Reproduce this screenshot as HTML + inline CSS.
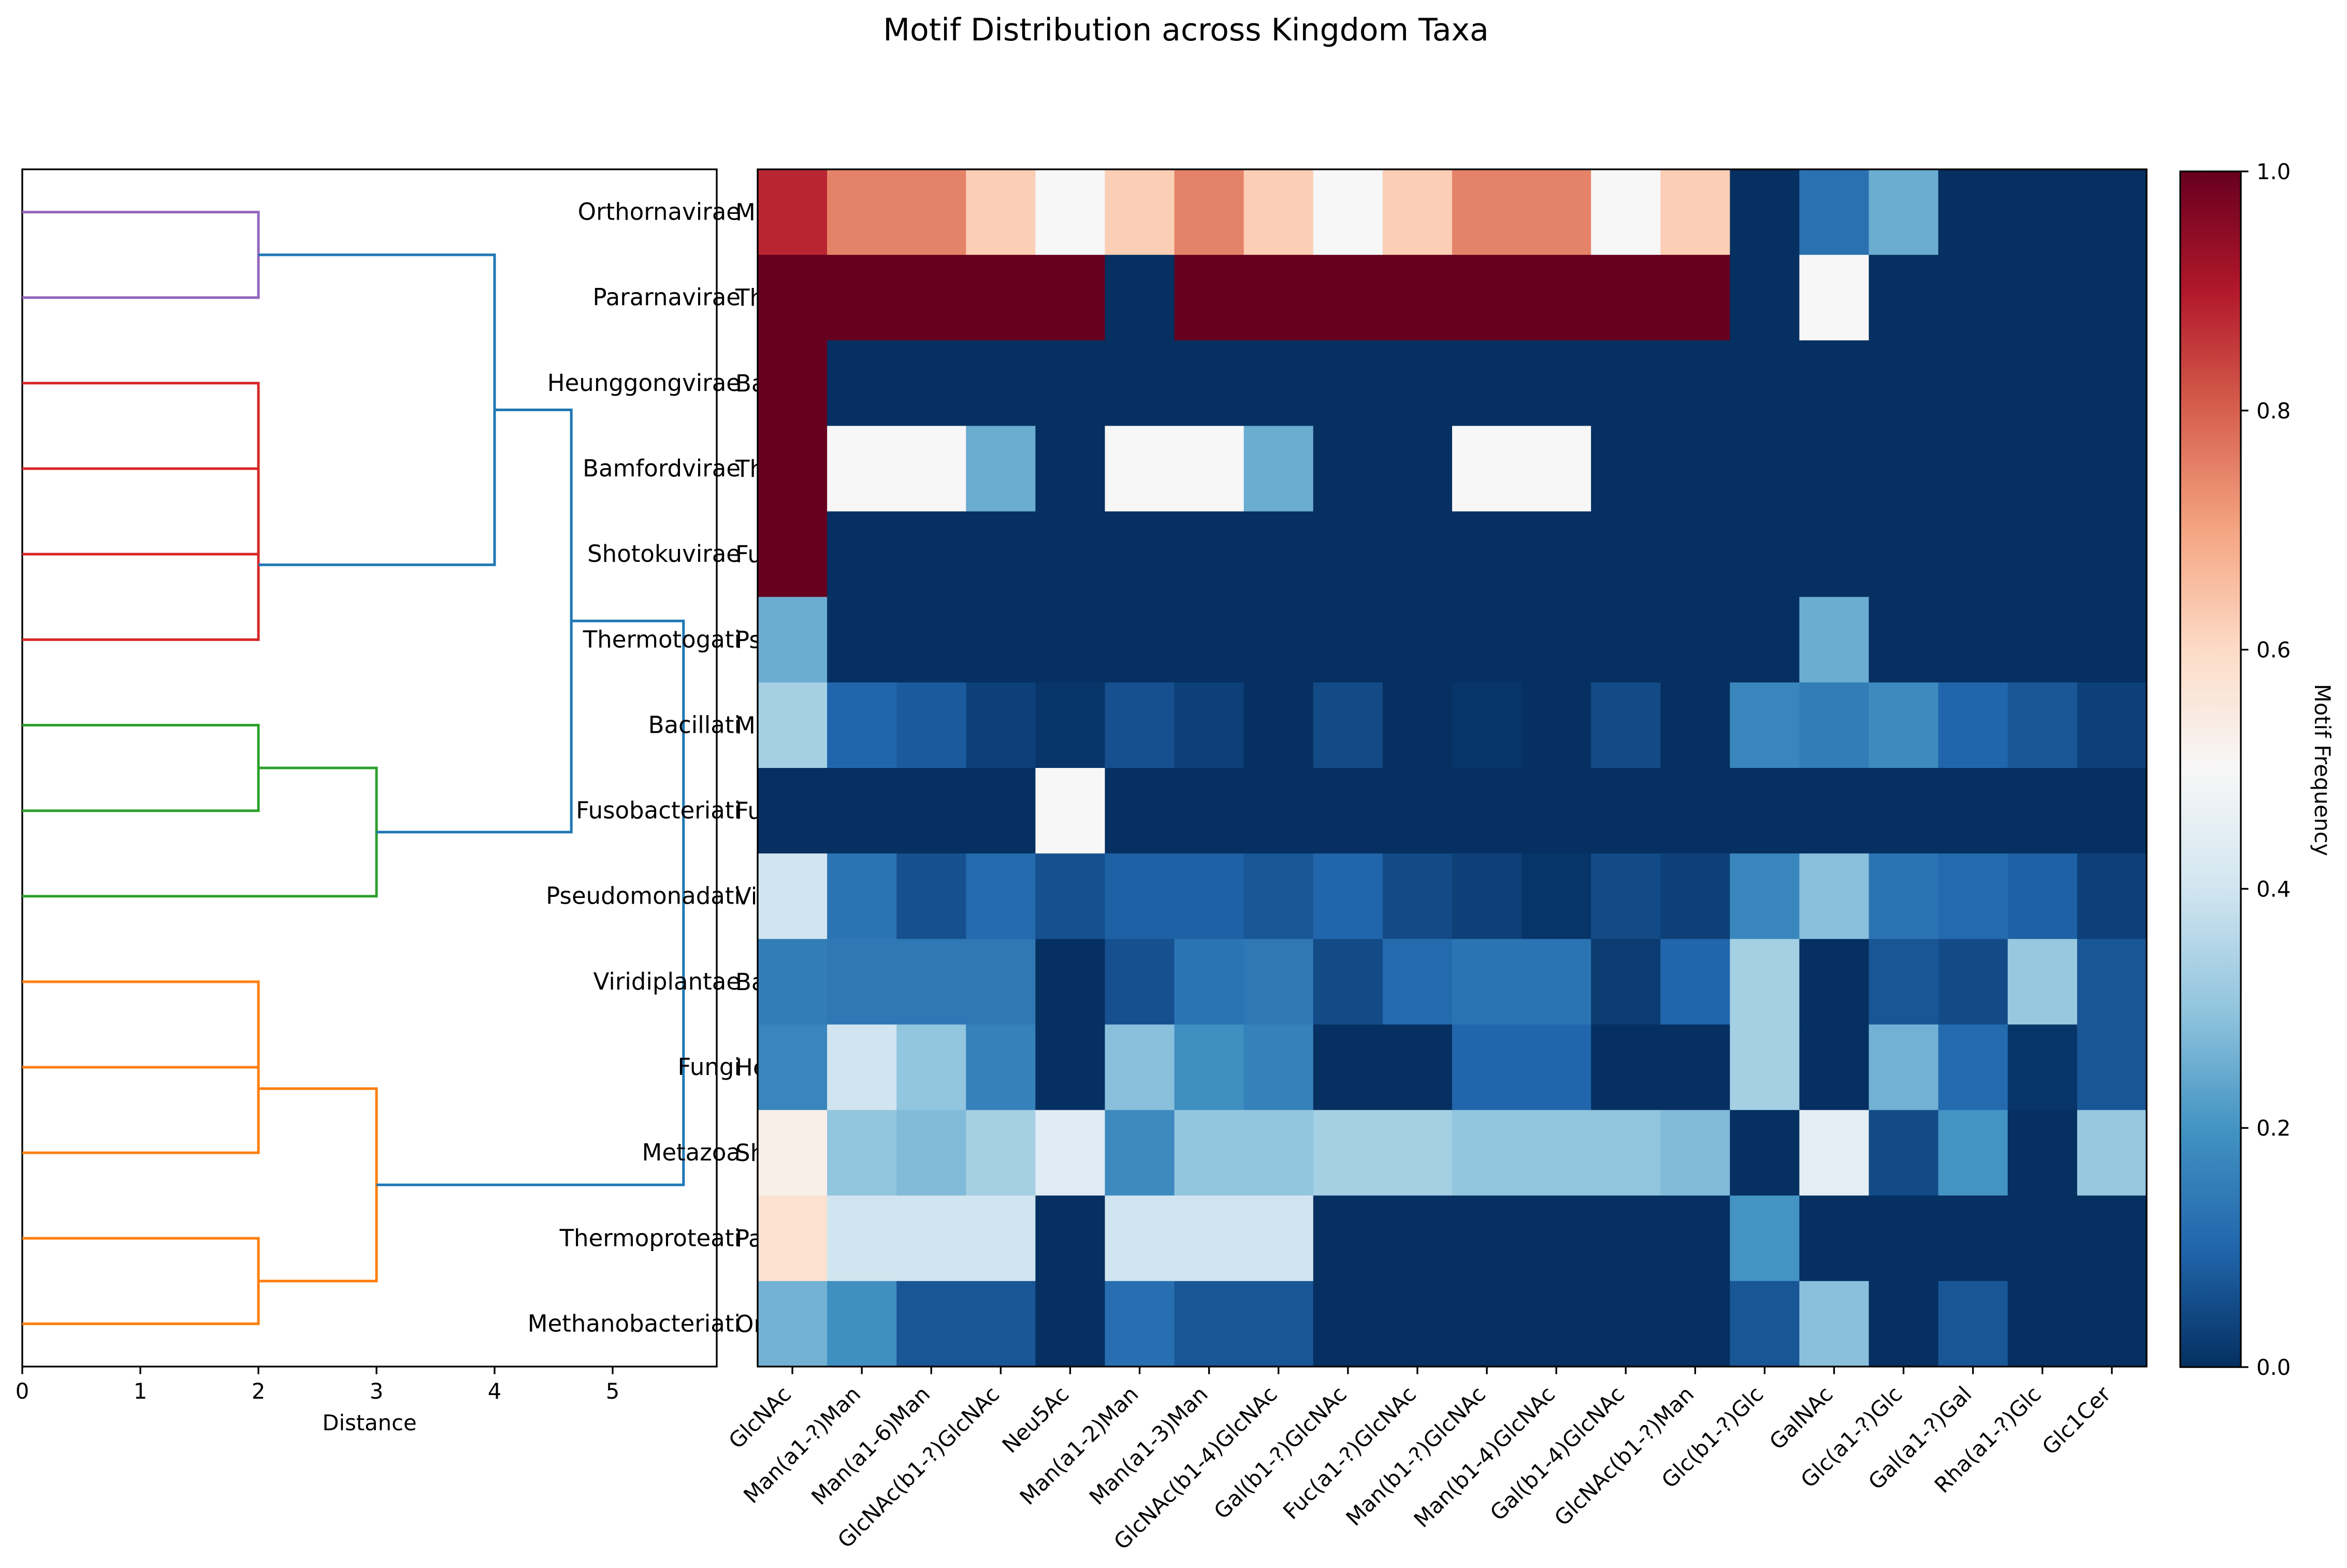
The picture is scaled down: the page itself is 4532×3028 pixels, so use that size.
<!DOCTYPE html>
<html><head><meta charset="utf-8"><style>
html,body{margin:0;padding:0;background:#fff}
svg{display:block;font-family:"DejaVu Sans","Liberation Sans",sans-serif}
</style></head><body>
<svg id="fig" width="4532" height="3028" viewBox="0 0 4532 3028" xmlns="http://www.w3.org/2000/svg">
<rect width="4532" height="3028" fill="#fff"/>
<text x="2290" y="78" font-size="60" text-anchor="middle">Motif Distribution across Kingdom Taxa</text>
<defs>
<linearGradient id="cbg" x1="0" y1="1" x2="0" y2="0">
<stop offset="0" stop-color="#053061"/><stop offset="0.1" stop-color="#2166ac"/><stop offset="0.2" stop-color="#4393c3"/><stop offset="0.3" stop-color="#92c5de"/><stop offset="0.4" stop-color="#d1e5f0"/><stop offset="0.5" stop-color="#f7f7f7"/><stop offset="0.6" stop-color="#fddbc7"/><stop offset="0.7" stop-color="#f4a582"/><stop offset="0.8" stop-color="#d6604d"/><stop offset="0.9" stop-color="#b2182b"/><stop offset="1" stop-color="#67001f"/>
</linearGradient>
</defs>
<g id="dendro"></g>
<g id="rowlabels"></g>
<g id="heat"></g>
<g id="xlabels"></g>
<g id="cbar"></g>
</svg>
<script>
const taxa = ["Orthornavirae","Pararnavirae","Heunggongvirae","Bamfordvirae","Shotokuvirae","Thermotogati","Bacillati","Fusobacteriati","Pseudomonadati","Viridiplantae","Fungi","Metazoa","Thermoproteati","Methanobacteriati"];
const taxa2 = ["Metazoa","Thermoproteati","Bacillati","Thermotogati","Fungi","Pseudomonadati","Methanobacteriati","Fusobacteriati","Viridiplantae","Bamfordvirae","Heunggongvirae","Shotokuvirae","Pararnavirae","Orthornavirae"];
const motifs = ["GlcNAc","Man(a1-?)Man","Man(a1-6)Man","GlcNAc(b1-?)GlcNAc","Neu5Ac","Man(a1-2)Man","Man(a1-3)Man","GlcNAc(b1-4)GlcNAc","Gal(b1-?)GlcNAc","Fuc(a1-?)GlcNAc","Man(b1-?)GlcNAc","Man(b1-4)GlcNAc","Gal(b1-4)GlcNAc","GlcNAc(b1-?)Man","Glc(b1-?)Glc","GalNAc","Glc(a1-?)Glc","Gal(a1-?)Gal","Rha(a1-?)Glc","Glc1Cer"];
const row0 = [0.88,0.75,0.75,0.625,0.5,0.625,0.75,0.625,0.5,0.625,0.75,0.75,0.5,0.625,0,0.125,0.25,0,0,0];
const row1 = [1,1,1,1,1,0,1,1,1,1,1,1,1,1,0,0.5,0,0,0,0];
const row2 = [1,0,0,0,0,0,0,0,0,0,0,0,0,0,0,0,0,0,0,0];
const row3 = [1,0.5,0.5,0.25,0,0.5,0.5,0.25,0,0,0.5,0.5,0,0,0,0,0,0,0,0];
const row4 = [1,0,0,0,0,0,0,0,0,0,0,0,0,0,0,0,0,0,0,0];
const row5 = [0.25,0,0,0,0,0,0,0,0,0,0,0,0,0,0,0.25,0,0,0,0];
const row6 = [0.33,0.1,0.08,0.03,0.01,0.06,0.03,0,0.05,0,0.01,0,0.05,0,0.17,0.15,0.18,0.1,0.07,0.03];
const row7 = [0,0,0,0,0.5,0,0,0,0,0,0,0,0,0,0,0,0,0,0,0];
const row8 = [0.4,0.13,0.06,0.11,0.06,0.09,0.09,0.07,0.1,0.05,0.03,0.01,0.05,0.03,0.17,0.29,0.13,0.11,0.09,0.03];
const row9 = [0.15,0.14,0.14,0.14,0,0.06,0.13,0.14,0.05,0.11,0.13,0.13,0.02,0.1,0.33,0,0.07,0.05,0.31,0.07];
const row10 = [0.17,0.4,0.3,0.16,0,0.29,0.19,0.16,0,0,0.1,0.1,0,0,0.33,0,0.26,0.11,0.01,0.07];
const row11 = [0.53,0.3,0.28,0.33,0.44,0.18,0.3,0.3,0.33,0.33,0.3,0.3,0.3,0.28,0,0.45,0.05,0.2,0,0.31];
const row12 = [0.58,0.4,0.4,0.4,0,0.4,0.4,0.4,0,0,0,0,0,0,0.2,0,0,0,0,0];
const row13 = [0.26,0.19,0.07,0.07,0,0.12,0.07,0.07,0,0,0,0,0,0,0.07,0.29,0,0.07,0,0];
const values = [row0,row1,row2,row3,row4,row5,row6,row7,row8,row9,row10,row11,row12,row13];
const cbTicks = ["0.0","0.2","0.4","0.6","0.8","1.0"];
const distTicks = [0,1,2,3,4,5];
const linkY1 = [0,2,2.5,3.25,6,6.5,9,9.5,12,10.25,0.5,2.3125,4.78125];
const linkY2 = [1,3,4,5,7,8,10,11,13,12.5,4.125,7.25,11.375];
const linkH = [2,2,2,2,2,3,2,2,2,3,4,4.65,5.6];
const linkL1 = [0,0,2,2,0,2,0,2,0,2,2,4,4.65];
const linkL2 = [0,0,0,0,0,0,0,0,0,2,2,3,3];
const linkColor = ["#9467bd","#d62728","#d62728","#d62728","#2ca02c","#2ca02c","#ff7f0e","#ff7f0e","#ff7f0e","#ff7f0e","#1f77b4","#1f77b4","#1f77b4"];

const NS="http://www.w3.org/2000/svg";
function mk(tag, attrs, parent){const e=document.createElementNS(NS,tag);for(const k in attrs)e.setAttribute(k,attrs[k]);parent.appendChild(e);return e;}
const HX0=1463, HX1=4145, HY0=327, HY1=2639;
const nR=taxa.length, nC=motifs.length;
const cw=(HX1-HX0)/nC, ch=(HY1-HY0)/nR;
const rowY = i => HY0 + ch*(i+0.5);
const DX0=43, DX1=1384, dpx=228;
const distX = d => DX0 + d*dpx;
const stops=["#053061","#2166ac","#4393c3","#92c5de","#d1e5f0","#f7f7f7","#fddbc7","#f4a582","#d6604d","#b2182b","#67001f"];
function hex(h){return [parseInt(h.slice(1,3),16),parseInt(h.slice(3,5),16),parseInt(h.slice(5,7),16)];}
function cmap(v){v=Math.max(0,Math.min(1,v));const p=v*10;const i=Math.min(9,Math.floor(p));const t=p-i;const a=hex(stops[i]),b=hex(stops[i+1]);return "rgb("+a.map((c,k)=>Math.round(c+(b[k]-c)*t)).join(",")+")";}

const dg=document.getElementById('dendro');
const dax=mk('rect',{x:DX0,y:HY0,width:DX1-DX0,height:HY1-HY0,fill:"none",stroke:"#000","stroke-width":3.3},dg);


for(let k=0;k<linkY1.length;k++){
  const y1=rowY(linkY1[k]), y2=rowY(linkY2[k]), h=distX(linkH[k]);
  const p=mk('path',{d:`M${distX(linkL1[k])},${y1}H${h}V${y2}H${distX(linkL2[k])}`,fill:"none",stroke:linkColor[k],"stroke-width":5},dg);
  
  
}
distTicks.forEach(d=>{
  const x=distX(d);
  const t=mk('line',{x1:x,x2:x,y1:HY1,y2:HY1+14.6,stroke:"#000","stroke-width":3.3},dg);
  
  
  const l=mk('text',{x:x,y:HY1+62,"font-size":41.7,"text-anchor":"middle"},dg);
  
  
  l.textContent=d;
});
const dl=mk('text',{x:(DX0+DX1)/2,y:2762,"font-size":41.7,"text-anchor":"middle"},dg);


dl.textContent="Distance";

const rl=document.getElementById('rowlabels');
taxa.forEach((t,i)=>{
  const a=mk('text',{x:1430,y:rowY(i)+15,"font-size":45,"text-anchor":"end"},rl);
  
  
  a.textContent=t;
  const b=mk('text',{x:1420,y:rowY(i)+16,"font-size":45,"text-anchor":"start"},rl);
  
  
  b.textContent=taxa2[i];
});

const hg=document.getElementById('heat');
values.forEach((row,i)=>row.forEach((v,j)=>{
  const r=mk('rect',{x:HX0+j*cw,y:HY0+i*ch,width:cw+0.6,height:ch+0.6,fill:cmap(v)},hg);
  
  
}));
const hb=mk('rect',{x:HX0,y:HY0,width:HX1-HX0,height:HY1-HY0,fill:"none",stroke:"#000","stroke-width":3.3},hg);


const xg=document.getElementById('xlabels');
motifs.forEach((m,j)=>{
  const x=HX0+cw*(j+0.5);
  const t=mk('line',{x1:x,x2:x,y1:HY1,y2:HY1+14.6,stroke:"#000","stroke-width":3.3},xg);
  
  
  const l=mk('text',{x:x,y:2695,"font-size":41.7,"text-anchor":"end",transform:`rotate(-45 ${x} 2695)`},xg);
  
  
  l.textContent=m;
});

const cg=document.getElementById('cbar');
const CX0=4210,CX1=4327,CY0=331,CY1=2640;
const cr=mk('rect',{x:CX0,y:CY0,width:CX1-CX0,height:CY1-CY0,fill:"url(#cbg)",stroke:"#000","stroke-width":3.3},cg);


cbTicks.forEach(s=>{
  const y=CY1-(CY1-CY0)*parseFloat(s);
  const t=mk('line',{x1:CX1,x2:CX1+14.6,y1:y,y2:y,stroke:"#000","stroke-width":3.3},cg);
  
  
  const l=mk('text',{x:CX1+30,y:y+15,"font-size":41.7},cg);
  
  
  l.textContent=s;
});
const ct=mk('text',{x:4470,y:1487,"font-size":41.7,"text-anchor":"middle",transform:"rotate(90 4470 1487)"},cg);


ct.textContent="Motif Frequency";
</script>
</body></html>
